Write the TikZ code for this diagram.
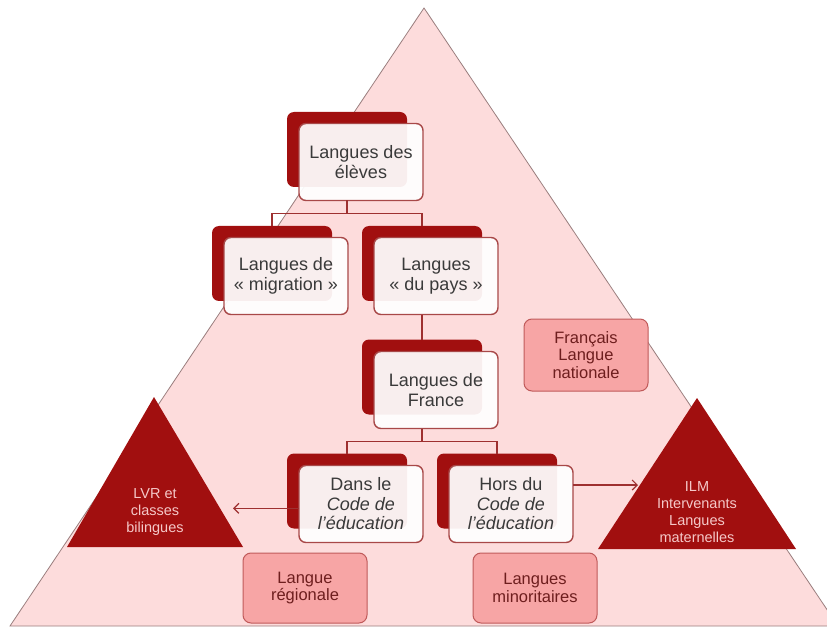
\documentclass[tikz,border=0pt]{standalone}
\usepackage{fontspec}
\setmainfont{Liberation Sans}
\usetikzlibrary{arrows.meta}
\definecolor{pyrpink}{HTML}{FDDCDC}
\definecolor{pyredge}{HTML}{9A7E7E}
\definecolor{darkred}{HTML}{A10F0F}
\definecolor{linkred}{HTML}{9E3030}
\definecolor{boxedge}{HTML}{A84848}
\definecolor{textgray}{HTML}{3A3A3A}
\definecolor{salmon}{HTML}{F7A5A5}
\definecolor{salmonedge}{HTML}{C05A5A}
\definecolor{salmontext}{HTML}{6E1E1E}
\definecolor{tritext}{HTML}{F5C8C8}
\begin{document}
\begin{tikzpicture}[x=1pt,y=-1pt,inner sep=0pt,outer sep=0pt,line width=1.4pt,
backbox/.style={fill=darkred,rounded corners=7pt,minimum width=120pt,minimum height=75pt},
frontbox/.style={draw=boxedge,fill=white,fill opacity=.93,text opacity=1,rounded corners=7pt,minimum width=124pt,minimum height=77pt,align=center,text=textgray,font=\fontsize{18}{19.5}\selectfont},
salmonbox/.style={draw=salmonedge,fill=salmon,line width=1pt,rounded corners=8pt,minimum width=124pt,minimum height=72pt,align=center,text=salmontext,font=\fontsize{16.5}{17.5}\selectfont},
tritxt/.style={align=center,text=tritext,font=\fontsize{14.5}{17}\selectfont},
link/.style={draw=linkred,line width=1.4pt},
arrowlink/.style={link,line width=1.2pt,-{Straight Barb[length=5pt,width=10pt]}}]
\useasboundingbox (0,0) rectangle (827,628);
% pyramid
\filldraw[fill=pyrpink,draw=pyredge,line width=.8pt] (424,8) -- (838,626) -- (10,626) -- cycle;
\fill[darkred] (154,397) -- (243,547) -- (67,547) -- cycle;
\fill[darkred] (697,398) -- (796,549) -- (598,549) -- cycle;
\draw (155,512) node[tritxt] (lvr) {LVR et\\classes\\bilingues};
\draw (697,512) node[tritxt] (ilm) {ILM\\Intervenants\\Langues\\maternelles};
% boxes
\draw (347,149.5) node[backbox] (eleves0) {};
\draw (361,162) node[frontbox] (eleves) {Langues des\\élèves};
\draw (272,263.5) node[backbox] (migration0) {};
\draw (286,276) node[frontbox] (migration) {Langues de\\« migration »};
\draw (422,263.5) node[backbox] (pays0) {};
\draw (436,276) node[frontbox] (pays) {Langues\\« du pays »};
\draw (422,377) node[backbox] (france0) {};
\draw (436,390) node[frontbox] (france) {Langues de\\France};
\draw (347,491) node[backbox] (dans0) {};
\draw (361,504) node[frontbox] (dans) {Dans le\\\textit{Code de}\\\textit{l'éducation}};
\draw (497,491) node[backbox] (hors0) {};
\draw (511,504) node[frontbox] (hors) {Hors du\\\textit{Code de}\\\textit{l'éducation}};
\draw (586,355) node[salmonbox] (nationale) {Français\\Langue\\nationale};
\draw (305,588) node[salmonbox,minimum height=70pt] (regionale) {Langue\\régionale};
\draw (535,588) node[salmonbox,minimum height=70pt] (minoritaires) {Langues\\minoritaires};
% connectors
\draw[link] (eleves0 |- eleves.south) -- ++(0,13) coordinate (split1);
\draw[link] (split1) -| (migration0.north);
\draw[link] (split1) -| (pays0.north);
\draw[link] (pays0 |- pays.south) -- (france0.north);
\draw[link] (france0 |- france.south) -- ++(0,13) coordinate (split2);
\draw[link] (split2) -| (dans0.north);
\draw[link] (split2) -| (hors0.north);
\coordinate (lvrtip) at (233,508);
\coordinate (ilmtip) at (638,485);
\draw[arrowlink] (dans.184) -- (dans.184 -| lvrtip);
\draw[arrowlink] (hors.17) -- (hors.17 -| ilmtip);
\end{tikzpicture}
\end{document}
